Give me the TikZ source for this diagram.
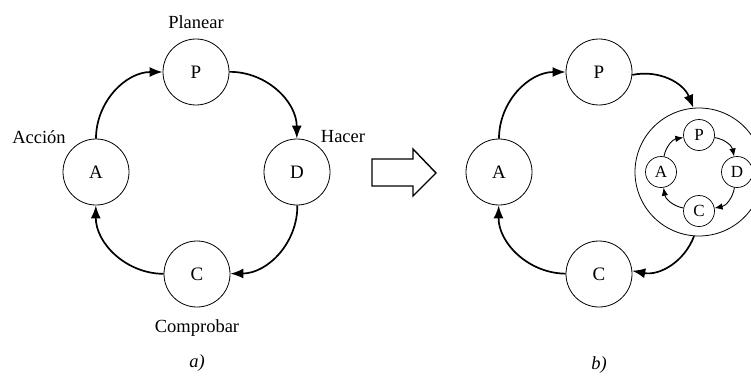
\documentclass[tikz,border=0pt]{standalone}
\usepackage{fontspec}
\setmainfont{Liberation Serif}
\usetikzlibrary{arrows.meta}
\tikzset{
  stage/.style={circle, draw, line width=0.8pt, minimum size=66pt, inner sep=0pt,
                font=\fontsize{19}{21}\selectfont},
  substage/.style={circle, draw, line width=0.7pt, minimum size=31pt, inner sep=0pt,
                font=\fontsize{17}{18}\selectfont},
  ring/.style={circle, draw, line width=0.8pt, minimum size=128pt, inner sep=0pt},
  flow/.style={line width=1.7pt, -{Latex[length=13pt,width=10pt]}},
  subflow/.style={line width=0.9pt, -{Latex[length=8pt,width=6.5pt]}},
  tag/.style={font=\fontsize{18.5}{20}\selectfont},
}
\begin{document}
\begin{tikzpicture}[x=1pt,y=-1pt]
\useasboundingbox (0,0) rectangle (751,377);

% (a) the basic PDCA cycle
\node[stage] (P) at (196,72) {P};
\node[stage] (D) at (297,172) {D};
\node[stage] (C) at (197,274) {C};
\node[stage] (A) at (96,172) {A};

\draw[flow] (A) to[bend left=45] (P);
\draw[flow] (P) to[bend left=45] (D);
\draw[flow] (D) to[bend left=45] (C);
\draw[flow] (C) to[bend left=45] (A);

\node[tag] (lp) at (196,22) {Planear};
\node[tag] (ld) at (343,137) {Hacer};
\node[tag] (lc) at (197,328) {Comprobar};
\node[tag] (la) at (39,137) {Acción};
\node[tag] (capa) at (197,363) {\itshape a)};

% hollow block arrow between the two cycles
\draw[line width=1.4pt, line join=miter]
  (372,159) -- (413,159) -- (413,149) -- (436,173) -- (413,196)
  -- (413,186) -- (372,186) -- cycle;

% (b) the cycle with a nested cycle in the "do" stage
\node[stage] (P2) at (599,72) {P};
\node[stage] (C2) at (599,274) {C};
\node[stage] (A2) at (499,172) {A};
\node[ring] (R) at (699,172) {};

\node[substage] (sP) at (699,135) {P};
\node[substage] (sD) at (737,172) {D};
\node[substage] (sC) at (699,211) {C};
\node[substage] (sA) at (661,172) {A};

\draw[flow] (A2) to[bend left=45] (P2);
\draw[flow] (P2) to[bend left=40] (R);
\draw[flow] (R) to[bend left=40] (C2);
\draw[flow] (C2) to[bend left=45] (A2);

\draw[subflow] (sA) to[bend left=35] (sP);
\draw[subflow] (sP) to[bend left=35] (sD);
\draw[subflow] (sD) to[bend left=35] (sC);
\draw[subflow] (sC) to[bend left=35] (sA);

\node[tag] (capb) at (599,365) {\itshape b)};
\end{tikzpicture}
\end{document}
